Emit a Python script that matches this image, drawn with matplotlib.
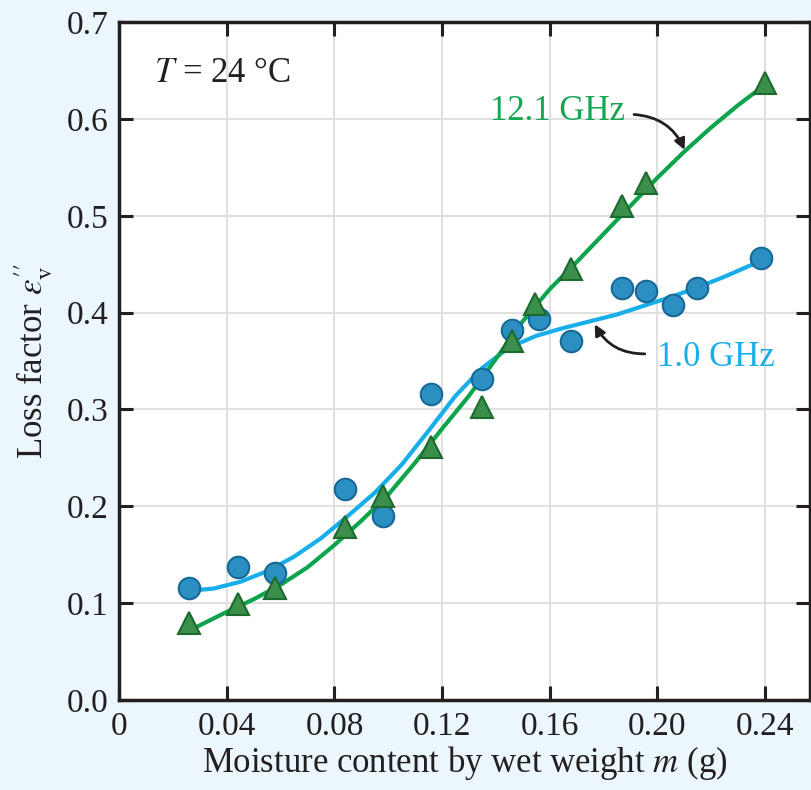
#!/usr/bin/python3

# loss factor vs moisture content at two frequencies

import matplotlib.pyplot as plt

plt.rcParams['font.family'] = ['Liberation Serif', 'DejaVu Serif']
plt.rcParams['mathtext.fontset'] = 'stix'

# measured points
m_low = [0.026, 0.044, 0.058, 0.084, 0.098, 0.116, 0.135, 0.146, 0.156, 0.168,
         0.187, 0.196, 0.206, 0.215, 0.2385]
eps_low = [0.116, 0.137, 0.131, 0.218, 0.190, 0.316, 0.331, 0.382, 0.393, 0.371,
           0.425, 0.422, 0.408, 0.425, 0.456]

m_high = [0.026, 0.044, 0.058, 0.084, 0.098, 0.116, 0.135, 0.146, 0.1545, 0.168,
          0.187, 0.196, 0.240]
eps_high = [0.079, 0.099, 0.116, 0.179, 0.211, 0.261, 0.303, 0.371, 0.409, 0.445,
            0.510, 0.534, 0.637]

# fitted curves as drawn
fit_low_x = [0.027, 0.035, 0.045, 0.055, 0.065, 0.075, 0.085, 0.095, 0.105, 0.115,
             0.125, 0.135, 0.145, 0.155, 0.165, 0.175, 0.185, 0.195, 0.205, 0.215,
             0.225, 0.239]
fit_low_y = [0.113, 0.115, 0.122, 0.133, 0.148, 0.167, 0.190, 0.214, 0.243, 0.278,
             0.314, 0.343, 0.364, 0.376, 0.384, 0.391, 0.398, 0.407, 0.416, 0.426,
             0.437, 0.454]

fit_high_x = [0.027, 0.040, 0.050, 0.060, 0.070, 0.080, 0.090, 0.100, 0.110, 0.120,
              0.130, 0.140, 0.150, 0.160, 0.170, 0.180, 0.190, 0.200, 0.210, 0.220,
              0.230, 0.240]
fit_high_y = [0.073, 0.091, 0.104, 0.119, 0.137, 0.160, 0.185, 0.212, 0.245, 0.280,
              0.314, 0.352, 0.391, 0.424, 0.452, 0.481, 0.510, 0.539, 0.566, 0.591,
              0.614, 0.635]

xticks = [0, 0.04, 0.08, 0.12, 0.16, 0.20, 0.24]
xticklabels = ['0', '0.04', '0.08', '0.12', '0.16', '0.20', '0.24']
yticks = [0.0, 0.1, 0.2, 0.3, 0.4, 0.5, 0.6, 0.7]
yticklabels = ['0.0', '0.1', '0.2', '0.3', '0.4', '0.5', '0.6', '0.7']

bg = '#ebf6fd'
blue_line = '#18aeea'
blue_fill = '#2b8fc1'
blue_edge = '#176a97'
green_line = '#0ea44c'
green_fill = '#3b8f4b'
green_edge = '#1c6a2e'

fig = plt.figure(figsize=(8.12, 7.90), dpi=100, facecolor=bg)
ax = fig.add_axes([0.147, 0.114, 0.850, 0.858])
ax.set_facecolor('white')

# curves
ax.plot(fit_low_x, fit_low_y, color=blue_line, lw=3.0, zorder=3,
        solid_joinstyle='round')
ax.plot(fit_high_x, fit_high_y, color=green_line, lw=3.0, zorder=3,
        solid_joinstyle='round')

# markers
ax.plot(m_low, eps_low, 'o', ms=15.5, mfc=blue_fill, mec=blue_edge, mew=1.5,
        zorder=4)
ax.plot(m_high, eps_high, '^', ms=16, mfc=green_fill, mec=green_edge, mew=1.5,
        zorder=4)

# axes
ax.set_xlim(0, 0.2567)
ax.set_ylim(0, 0.7)
ax.set_xticks(xticks)
ax.set_xticklabels(xticklabels)
ax.set_yticks(yticks)
ax.set_yticklabels(yticklabels)
ax.tick_params(direction='in', length=10, width=2.2, labelsize=24, pad=8,
               top=True, right=True, color='#231f20', labelcolor='#231f20')
for i in ['top', 'right', 'bottom', 'left']:
    ax.spines[i].set_linewidth(2.5)
    ax.spines[i].set_color('#231f20')
ax.grid(color='#e0e0e0', lw=1.5)
ax.set_axisbelow(True)

ax.set_xlabel(r'Moisture content by wet weight $m$ (g)', fontsize=25,
              color='#231f20', labelpad=2)
ax.set_ylabel(r"Loss factor $\varepsilon_{\mathrm{v}}''$", fontsize=25,
              color='#231f20', labelpad=8)

# annotations
ax.text(0.0128, 0.647, r'$T$ = 24 °C', fontsize=25, color='#231f20',
        va='center', ha='left')
ax.annotate('12.1 GHz', xy=(0.2102, 0.568), xytext=(0.1377, 0.608),
            fontsize=25, color='#14a650', va='center', ha='left',
            arrowprops=dict(arrowstyle='-|>', color='#231f20', lw=2,
                            mutation_scale=16, shrinkA=0, shrinkB=0,
                            relpos=(1.07, 0.4),
                            connectionstyle='arc3,rad=-0.3'))
ax.annotate('1.0 GHz', xy=(0.1768, 0.388), xytext=(0.1998, 0.354),
            fontsize=25, color='#1aaee8', va='center', ha='left',
            arrowprops=dict(arrowstyle='-|>', color='#231f20', lw=2,
                            mutation_scale=16, shrinkA=0, shrinkB=0,
                            relpos=(-0.1, 0.6),
                            connectionstyle='arc3,rad=-0.3'))

fig.savefig('out.png', dpi=100, facecolor=bg)
